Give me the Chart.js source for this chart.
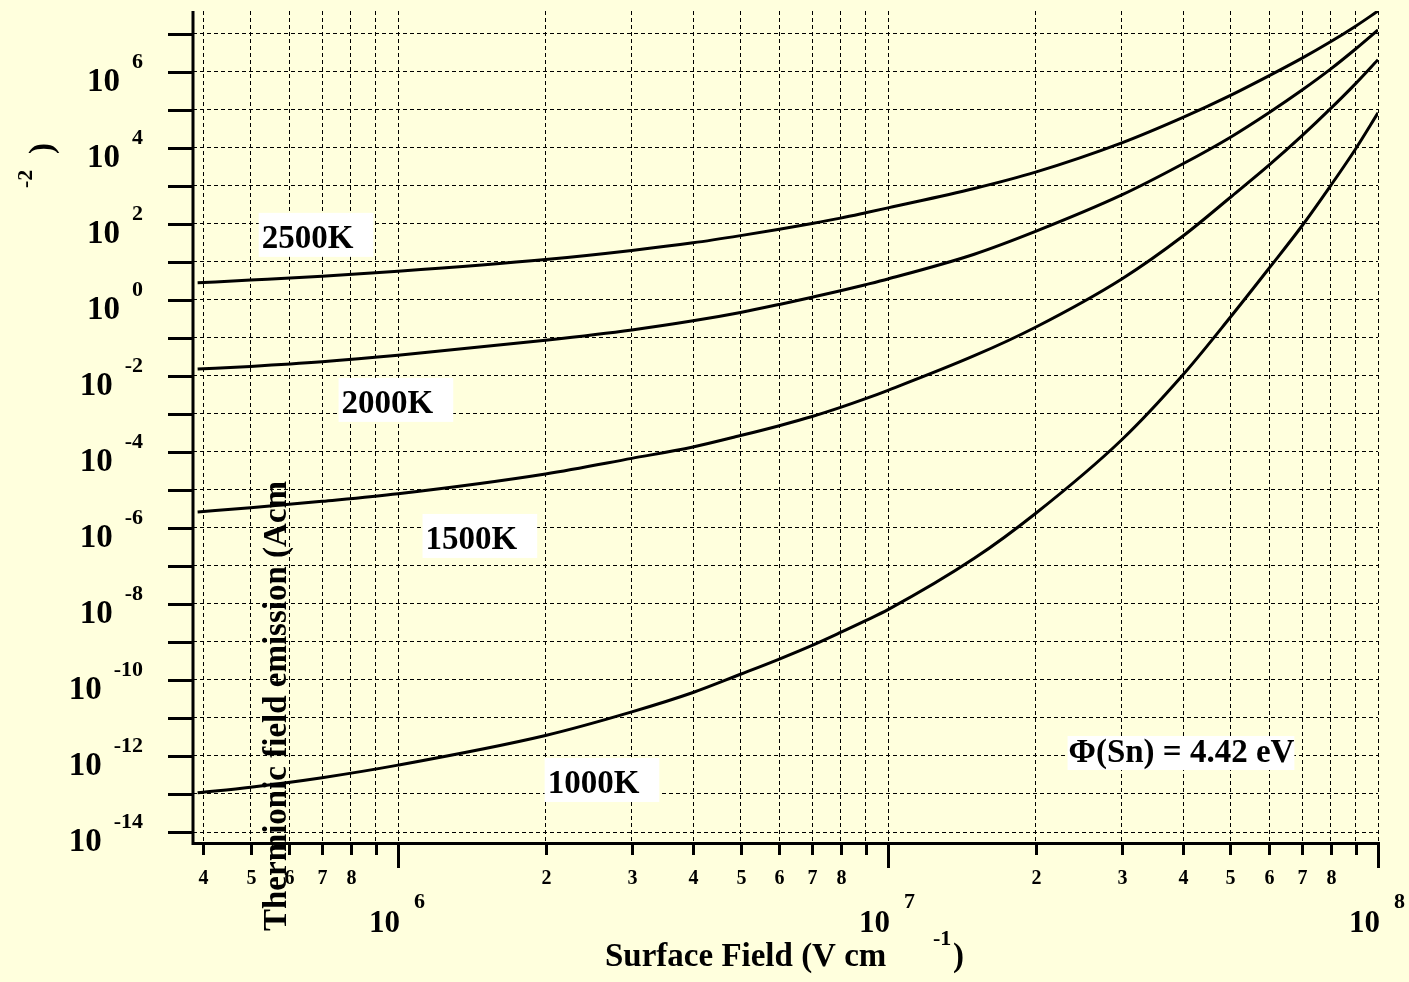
<!DOCTYPE html>
<html>
<head>
<meta charset="utf-8">
<script src="https://cdn.jsdelivr.net/npm/chart.js@4/dist/chart.umd.min.js"></script>
<style>
  html, body { margin: 0; padding: 0; background: #ffffdd; }
  #wrap { width: 1409px; height: 982px; position: relative; }
</style>
</head>
<body>
<div id="wrap"><canvas id="myChart"></canvas></div>
<script>
// surface field (V/cm)
const FIELD = [3.9e5, 5e5, 7e5, 1e6, 2e6, 3e6, 4e6, 5e6, 6e6, 7e6, 8e6, 9e6,
               1e7, 1.5e7, 2e7, 3e7, 4e7, 5e7, 6e7, 7e7, 8e7, 9e7, 1e8];

// log10 of emission current density (A cm^-2)
const LOG_J_2500K = [0.45, 0.52, 0.62, 0.75, 1.06, 1.30, 1.50, 1.69, 1.86, 2.01, 2.15, 2.29,
                     2.42, 2.93, 3.36, 4.13, 4.80, 5.38, 5.90, 6.36, 6.79, 7.20, 7.60];
const LOG_J_2000K = [-1.82, -1.75, -1.63, -1.46, -1.06, -0.79, -0.55, -0.33, -0.12, 0.07, 0.24, 0.40,
                     0.55, 1.20, 1.80, 2.76, 3.58, 4.28, 4.93, 5.52, 6.07, 6.60, 7.10];
const LOG_J_1500K = [-5.58, -5.47, -5.30, -5.10, -4.58, -4.17, -3.87, -3.57, -3.31, -3.07, -2.83, -2.60,
                     -2.38, -1.47, -0.72, 0.55, 1.68, 2.70, 3.55, 4.32, 5.03, 5.69, 6.32];
const LOG_J_1000K = [-12.97, -12.82, -12.57, -12.24, -11.46, -10.84, -10.33, -9.85, -9.45, -9.09, -8.75, -8.44,
                     -8.15, -6.80, -5.62, -3.68, -1.97, -0.45, 0.84, 1.95, 3.00, 3.97, 4.92];

const SERIES = [LOG_J_2500K, LOG_J_2000K, LOG_J_1500K, LOG_J_1000K];
const SERIES_NAMES = ['2500K', '2000K', '1500K', '1000K'];

// ticks
const X_TICKS = [4e5, 5e5, 6e5, 7e5, 8e5, 9e5,
                 1e6, 2e6, 3e6, 4e6, 5e6, 6e6, 7e6, 8e6, 9e6,
                 1e7, 2e7, 3e7, 4e7, 5e7, 6e7, 7e7, 8e7, 9e7, 1e8];
const X_MINOR_LABELS = ['2', '3', '4', '5', '6', '7', '8'];
const X_DECADES = [6, 7, 8];
const Y_DECADES = [-14, -13, -12, -11, -10, -9, -8, -7, -6, -5, -4, -3, -2, -1, 0, 1, 2, 3, 4, 5, 6, 7];
const Y_LABELS = [-14, -12, -10, -8, -6, -4, -2, 0, 2, 4, 6];

// curve labels: [text, field, log10 J] at left baseline of text
const NOTES = [
  ['2500K', 5.27e5, 1.368],
  ['2000K', 7.67e5, -2.974],
  ['1500K', 1.138e6, -6.553],
  ['1000K', 2.02e6, -12.974]
];
const WORK_FN_NOTE = ['\u03A6(Sn) = 4.42 eV', 2.336e7, -12.158];

const SERIF = '"Liberation Serif", "Times New Roman", serif';
const BG = '#ffffdd';

const decor = {
  id: 'decor',
  beforeDraw(chart) {
    const c = chart.ctx;
    c.save();
    c.fillStyle = BG;
    c.fillRect(0, 0, chart.width, chart.height);
    c.restore();
  },
  afterDatasetsDraw(chart) {
    const c = chart.ctx;
    const xs = chart.scales.x, ys = chart.scales.y;
    const a = chart.chartArea;
    c.save();
    c.fillStyle = '#000';
    c.strokeStyle = '#000';

    // axis lines
    c.lineWidth = 3;
    c.beginPath();
    c.moveTo(a.left, a.top);
    c.lineTo(a.left, a.bottom + 1.5);
    c.lineTo(a.right + 1, a.bottom + 1.5);
    c.stroke();

    // y tick marks + labels
    Y_DECADES.forEach(e => {
      const py = Math.round(ys.getPixelForValue(Math.pow(10, e))) + 0.5;
      c.beginPath();
      c.moveTo(a.left - 25, py);
      c.lineTo(a.left, py);
      c.stroke();
    });
    c.textBaseline = 'alphabetic';
    Y_LABELS.forEach(e => {
      const py = ys.getPixelForValue(Math.pow(10, e));
      const right = a.left - 50;
      c.font = 'bold 22px ' + SERIF;
      c.textAlign = 'right';
      const ex = String(e);
      c.fillText(ex, right, py - 4);
      const w = c.measureText(ex).width;
      c.font = 'bold 33px ' + SERIF;
      c.fillText('10', right - w - 12, py + 19);
    });

    // x tick marks + labels
    X_TICKS.forEach(v => {
      const px = Math.round(xs.getPixelForValue(v)) + 0.5;
      const mant = Math.round(v / Math.pow(10, Math.floor(Math.log10(v) + 1e-9)));
      const len = mant === 1 ? 26 : 13;
      c.beginPath();
      c.moveTo(px, a.bottom);
      c.lineTo(px, a.bottom + len);
      c.stroke();
      if (X_MINOR_LABELS.includes(String(mant))) {
        c.font = 'bold 20px ' + SERIF;
        c.textAlign = 'center';
        c.fillText(String(mant), px, a.bottom + 42);
      }
    });
    X_DECADES.forEach(e => {
      const px = xs.getPixelForValue(Math.pow(10, e));
      c.font = 'bold 31px ' + SERIF;
      c.textAlign = 'right';
      c.fillText('10', px + 2, a.bottom + 90);
      c.font = 'bold 22px ' + SERIF;
      c.textAlign = 'left';
      c.fillText(String(e), px + 16, a.bottom + 66);
    });

    // curve labels with white boxes
    c.font = 'bold 33px ' + SERIF;
    c.textAlign = 'left';
    NOTES.forEach(([t, fx, ly]) => {
      const px = xs.getPixelForValue(fx);
      const py = ys.getPixelForValue(Math.pow(10, ly));
      const w = c.measureText(t).width;
      c.fillStyle = '#fff';
      c.fillRect(px - 3, py - 35, w + 23, 44);
      c.fillStyle = '#000';
      c.fillText(t, px, py);
    });
    {
      const [t, fx, ly] = WORK_FN_NOTE;
      const px = xs.getPixelForValue(fx);
      const py = ys.getPixelForValue(Math.pow(10, ly));
      const w = c.measureText(t).width;
      c.fillStyle = '#fff';
      c.fillRect(px - 1, py - 26, w + 1, 34);
      c.fillStyle = '#000';
      c.fillText(t, px, py);
    }

    // x title
    c.textAlign = 'left';
    c.font = 'bold 33px ' + SERIF;
    c.fillText('Surface Field (V cm', 605, 966);
    c.font = 'bold 22px ' + SERIF;
    c.fillText('-1', 933, 945);
    c.font = 'bold 33px ' + SERIF;
    c.fillText(')', 953, 966);

    // y title (rotated)
    c.save();
    c.translate(286, 931);
    c.rotate(-Math.PI / 2);
    c.font = 'bold 33px ' + SERIF;
    c.fillText('Thermionic field emission (Acm', 0, 0);
    c.restore();
    c.save();
    c.translate(32, 188);
    c.rotate(-Math.PI / 2);
    c.font = 'bold 22px ' + SERIF;
    c.fillText('-2', 0, 0);
    c.restore();
    c.save();
    c.translate(52, 154);
    c.rotate(-Math.PI / 2);
    c.font = 'bold 33px ' + SERIF;
    c.fillText(')', 0, 0);
    c.restore();

    c.restore();
  }
};

const ctx = document.querySelector('#myChart');

const chart = new Chart(ctx, {
  type: 'line',
  data: {
    datasets: SERIES.map((s, i) => ({
      label: SERIES_NAMES[i],
      data: FIELD.map((f, j) => ({ x: f, y: Math.pow(10, s[j]) })),
      borderColor: '#000',
      borderWidth: 3,
      pointRadius: 0,
      fill: false,
      cubicInterpolationMode: 'monotone'
    }))
  },
  options: {
    responsive: true,
    maintainAspectRatio: false,
    animation: false,
    layout: { padding: { left: 193, top: 11, right: 31, bottom: 140 } },
    plugins: {
      legend: { display: false },
      tooltip: { enabled: false }
    },
    scales: {
      x: {
        type: 'logarithmic',
        min: 3.816e5,
        max: 1e8,
        bounds: 'data',
        afterBuildTicks: s => { s.ticks = X_TICKS.map(v => ({ value: v })); },
        ticks: { display: false },
        grid: { color: '#000', lineWidth: 1, drawTicks: false },
        border: { display: false, dash: [4, 3] }
      },
      y: {
        type: 'logarithmic',
        min: Math.pow(10, -14.263),
        max: Math.pow(10, 7.6),
        bounds: 'data',
        afterBuildTicks: s => { s.ticks = Y_DECADES.map(e => ({ value: Math.pow(10, e) })); },
        ticks: { display: false },
        grid: { color: '#000', lineWidth: 1, drawTicks: false },
        border: { display: false, dash: [4, 3] }
      }
    }
  },
  plugins: [decor]
});
</script>
</body>
</html>
